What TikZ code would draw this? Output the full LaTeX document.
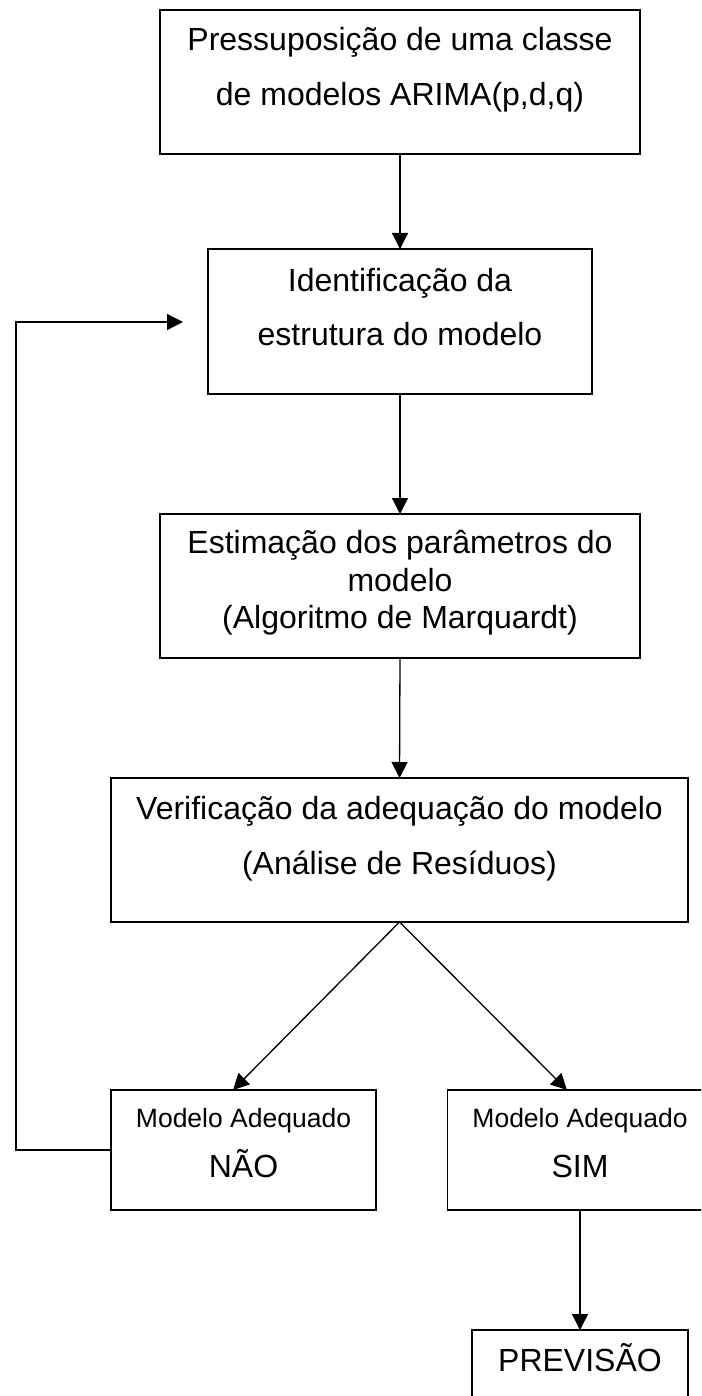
\documentclass[tikz,border=0pt]{standalone}
\usepackage{fontspec}
\setmainfont{Liberation Sans}
\usetikzlibrary{arrows.meta}
\begin{document}
\begin{tikzpicture}[x=1pt,y=-1pt,
  box/.style={draw, line width=1.4pt, inner sep=0pt, outer sep=0pt, rectangle},
  txt/.style={anchor=base, inner sep=0pt, font=\fontsize{32}{38}\selectfont},
  smalltxt/.style={anchor=base, inner sep=0pt, font=\fontsize{26.5}{32}\selectfont},
  arr/.style={-{Triangle[length=16pt,width=16pt]}, line width=1.3pt}
]
\useasboundingbox (0,0) rectangle (701,1396);
\fill[white] (0,0) rectangle (701,1396);
\clip (0,0) rectangle (701,1396);

% boxes
\node[box, minimum width=480pt, minimum height=144pt] (b1) at (400,82) {};
\node[box, minimum width=384pt, minimum height=145pt] (b2) at (400,321.5) {};
\node[box, minimum width=480pt, minimum height=144pt] (b3) at (400,586) {};
\node[box, minimum width=577pt, minimum height=144pt] (b4) at (399.5,850) {};
\node[box, minimum width=265pt, minimum height=120pt] (nao) at (243.5,1150) {};
\node[box, minimum width=265pt, minimum height=120pt] (sim) at (580,1150) {};
\node[box, minimum width=216pt, minimum height=110pt] (prev) at (580,1385) {};

% texts
\node[txt] (t1a) at (400,50.5) {Pressuposição de uma classe};
\node[txt] (t1b) at (400,106) {de modelos ARIMA(p,d,q)};
\node[txt] (t2a) at (400,292) {Identificação da};
\node[txt] (t2b) at (400,345) {estrutura do modelo};
\node[txt] (t3a) at (400,553) {Estimação dos parâmetros do};
\node[txt] (t3b) at (400,591) {modelo};
\node[txt] (t3c) at (400,628) {(Algoritmo de Marquardt)};
\node[txt] (t4a) at (399.5,819) {Verificação da adequação do modelo};
\node[txt] (t4b) at (399.5,874) {(Análise de Resíduos)};
\node[smalltxt] (tna) at (243.5,1127) {Modelo Adequado};
\node[txt] (tnb) at (243.5,1177) {NÃO};
\node[smalltxt] (tsa) at (580,1127) {Modelo Adequado};
\node[txt] (tsb) at (580,1177) {SIM};
\node[txt] (tp) at (580,1371) {PREVISÃO};

% connectors
\draw[arr] (b1.south) -- (b2.north);
\draw[arr] (b2.south) -- (b3.north);
\draw[arr] (b3.south) -- (b4.north);
\draw[arr] (b4.south) -- ([xshift=-10.5pt]nao.north);
\draw[arr] (b4.south) -- ([xshift=-13pt]sim.north);
\draw[arr] (sim.south) -- (prev.north);
\coordinate (fbtip) at (183,322);
\draw[arr] (nao.west) -- ++(-95,0) |- (fbtip);
\end{tikzpicture}
\end{document}
